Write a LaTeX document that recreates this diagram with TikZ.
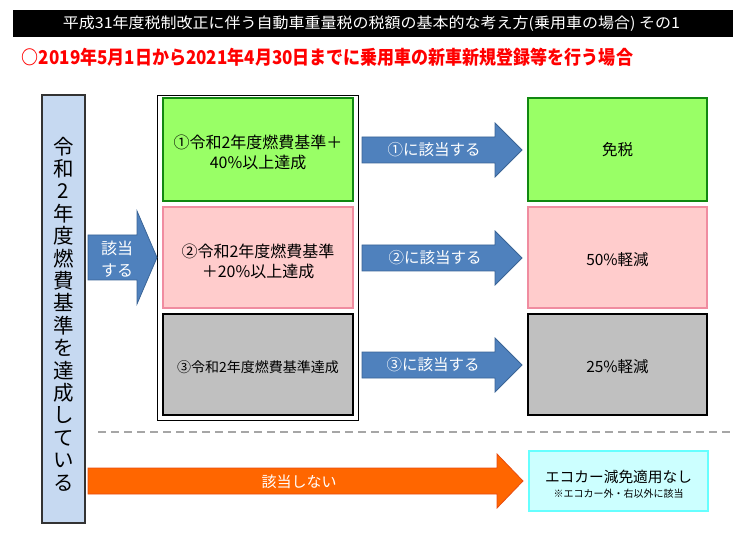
\documentclass[tikz,border=0pt]{standalone}
\usepackage{fontspec}
\setmainfont{Noto Sans CJK JP}
\usepackage{graphicx}
\definecolor{colbg}{HTML}{C6D9F1}
\definecolor{arrblue}{HTML}{4F81BD}
\definecolor{arrblueb}{HTML}{3A6496}
\definecolor{gfill}{HTML}{99FF66}
\definecolor{gline}{HTML}{118811}
\definecolor{pfill}{HTML}{FFCCCC}
\definecolor{pline}{HTML}{F08CA0}
\definecolor{kfill}{HTML}{C0C0C0}
\definecolor{ofill}{HTML}{FF6600}
\definecolor{oline}{HTML}{E84C10}
\definecolor{cfill}{HTML}{CCFFFF}
\definecolor{cline}{HTML}{66FFFF}
\definecolor{dashc}{HTML}{A6A6A6}
\tikzset{
  box/.style={draw, inner sep=0pt, align=center, anchor=center},
  greenbox/.style={box, fill=gfill, draw=gline, line width=1.8pt, minimum height=103pt},
  pinkbox/.style={box, fill=pfill, draw=pline, line width=1.8pt, minimum height=101pt},
  graybox/.style={box, fill=kfill, draw=black, line width=2.2pt, minimum height=101pt},
  leftw/.style={minimum width=190pt},
  rightw/.style={minimum width=179pt},
  label/.style={inner sep=0pt, align=center},
  bigtext/.style={label, font=\fontsize{16}{20}\selectfont},
  boxtext/.style={label, font=\fontsize{14}{19}\selectfont},
  restext/.style={label, font=\fontsize{15.5}{19}\selectfont},
  blockblue/.style={fill=arrblue, draw=arrblueb, line width=0.8pt},
  blockorange/.style={fill=ofill, draw=oline, line width=0.8pt},
  arrtext/.style={text=white, font=\fontsize{15.5}{21}\selectfont, align=center, inner sep=0pt},
}
\begin{document}
\begin{tikzpicture}[x=1pt,y=-1pt]
\useasboundingbox (0,0) rectangle (741,534);
% header
\node[fill=black, minimum width=720pt, minimum height=27pt, inner sep=0pt] (hdr) at (373,23.5) {};
\node[text=white, inner sep=0pt] (hdrtext) at (371.5,24)
  {\resizebox{617pt}{\height}{\fontsize{15}{15}\selectfont 平成31年度税制改正に伴う自動車重量税の税額の基本的な考え方(乗用車の場合) その1}};
\node[text=red, inner sep=0pt] (subtitle) at (327.5,57.5)
  {\resizebox{611pt}{\height}{\fontsize{19}{19}\selectfont\bfseries ○2019年5月1日から2021年4月30日までに乗用車の新車新規登録等を行う場合}};
% left column
\node[box, fill=colbg, draw=black!80, line width=1.2pt, minimum width=43pt, minimum height=428pt] (col) at (63.5,309) {};
\node[align=center, inner sep=0pt, font=\fontsize{20.5}{22.4}\selectfont] (coltext) at (63.5,314)
  {令\\和\\2\\年\\度\\燃\\費\\基\\準\\を\\達\\成\\し\\て\\い\\る};
% frame and left boxes
\node[box, draw=black, line width=0.9pt, fill=white, minimum width=201pt, minimum height=325pt] (frame) at (257.5,257.5) {};
\node[greenbox, leftw] (g1) at (258,149.5) {};
\node[pinkbox, leftw] (p1) at (258,257.5) {};
\node[graybox, leftw] (k1) at (258,364.5) {};
\node[bigtext] (g1t) at (258,152) {①令和2年度燃費基準＋\\40\%以上達成};
\node[bigtext] (p1t) at (258,261) {②令和2年度燃費基準\\＋20\%以上達成};
\node[boxtext] (k1t) at (258,367) {③令和2年度燃費基準達成};
% right boxes
\node[greenbox, rightw] (g2) at (617.5,149.5) {};
\node[pinkbox, rightw] (p2) at (617.5,257.5) {};
\node[graybox, rightw] (k2) at (617.5,364.5) {};
\node[restext] (g2t) at (617.5,150) {免税};
\node[restext] (p2t) at (617.5,260) {50\%軽減};
\node[restext] (k2t) at (617.5,367) {25\%軽減};
\node[box, fill=cfill, draw=cline, line width=1.8pt, minimum width=179pt, minimum height=60pt] (c2) at (618.5,481) {};
\node[inner sep=0pt, font=\fontsize{14.7}{14.7}\selectfont] (c2a) at (618.5,477) {エコカー減免適用なし};
\node[inner sep=0pt, font=\fontsize{10}{10}\selectfont] (c2b) at (618.5,494) {※エコカー外・右以外に該当};
% block arrows
\draw[blockblue] (88,235) -- (137,235) -- (137,211) -- (157,257.5) -- (137,304) -- (137,280) -- (88,280) -- cycle;
\node[arrtext, font=\fontsize{16}{22}\selectfont] (a0) at (117,259) {該当\\する};
\draw[blockblue] (362,137) -- (495,137) -- (495,123) -- (522,150) -- (495,177) -- (495,163) -- (362,163) -- cycle;
\node[arrtext] (a1) at (434,150) {①に該当する};
\draw[blockblue] (362,245) -- (495,245) -- (495,231) -- (522,258) -- (495,285) -- (495,271) -- (362,271) -- cycle;
\node[arrtext] (a2) at (435,258) {②に該当する};
\draw[blockblue] (362,352) -- (495,352) -- (495,338) -- (522,365) -- (495,392) -- (495,378) -- (362,378) -- cycle;
\node[arrtext] (a3) at (433,365) {③に該当する};
\draw[blockorange] (88,468) -- (497,468) -- (497,454) -- (523,481) -- (497,508) -- (497,494) -- (88,494) -- cycle;
\node[arrtext, font=\fontsize{15}{21}\selectfont] (a4) at (299,482) {該当しない};
% dashed separator
\coordinate (dl) at (98,432);
\coordinate (dr) at (733,432);
\draw[dashc, line width=1.5pt, dash pattern=on 8pt off 5pt] (dl) -- (dr);
\end{tikzpicture}
\end{document}
